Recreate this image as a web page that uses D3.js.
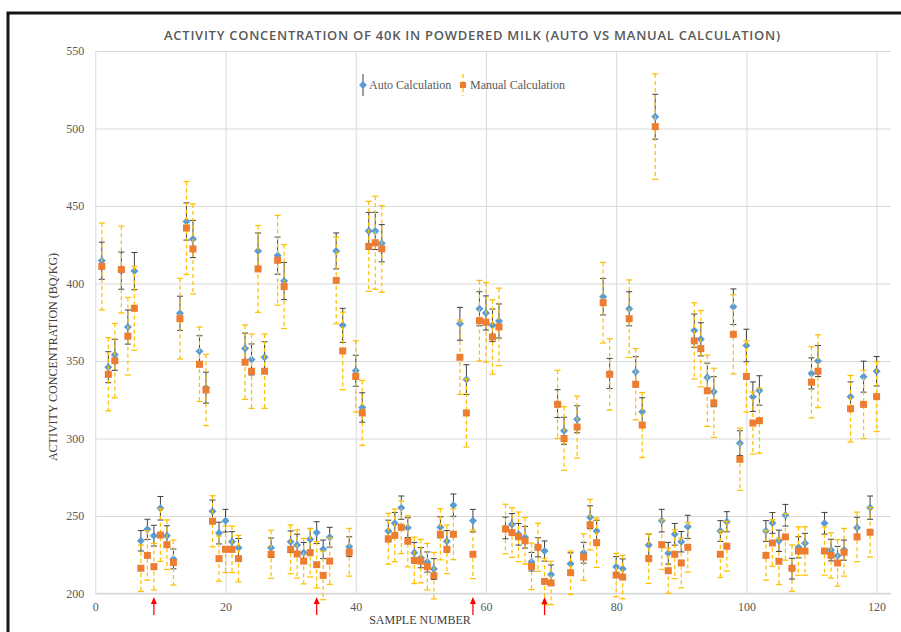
<!DOCTYPE html>
<html>
<head>
<meta charset="utf-8">
<script src="https://cdn.jsdelivr.net/npm/d3@7"></script>
<style>
body {margin:0; background:#fff;}
text {font-family:"Liberation Serif","DejaVu Serif",serif;}
</style>
</head>
<body>
<div class="charts"></div>
<script>
/////////////
//Data
/////////////

var samples = d3.range(1, 121)

var autoVals = [414.7,346,354,408.3,371.9,408,
  234,241.4,237.3,255,237.3,222.3,
  380.8,440,428.7,356.3,332.8,
  253,239,247,233.4,229.5,
  358,351,421,352.4,
  229.5,
  418,401.6,
  233.4,231.3,226.3,235,239.3,228.5,236.3,
  421,373,
  230.2,
  343.7,320,433.9,433.9,426,
  240.3,245.3,255.4,242.5,226.3,223.1,220.3,215.8,242.7,233.7,257,
  374,338,
  247,
  383.7,381,373,375.8,
  242.3,244.6,238.2,236.3,220.5,229.8,227.4,212.2,
  322.5,305,
  219.2,
  312.4,
  226.3,249.2,240.3,
  391.5,342,
  217.3,216,
  383.7,343,317.3,
  231.3,
  507.6,
  247,226,238.2,233.4,243,
  369.6,364,339.3,330.2,
  240.3,246.3,
  385,297,360,327,331,
  240.3,245.5,234,250.5,216,229.8,232.4,
  342,350,
  245.3,228,224.4,228,
  327,
  242.5,
  339.9,
  255.4,
  343.4]

var manualVals = [411,341.4,350.2,409,366,384,
  216.3,224.6,217.3,237.7,231.5,220,
  377.3,435.8,422.3,347.9,331.3,
  246.6,222.5,228.5,228.5,222.5,
  349.2,343.4,409.4,343.4,
  225.3,
  415,398,
  228.5,225.5,220.9,226.3,218.6,211.7,220.9,
  402,356.5,
  226.6,
  340,316.5,424,426.3,422.3,
  235.3,237.5,242.7,233.7,221.4,220.9,217.3,211.5,238.2,228.5,238.2,
  352.4,316.5,
  225.3,
  376,375,365.5,372,
  241.6,239.3,236.6,234,217.5,229.8,207.8,206.8,
  322,300,
  213.4,
  307.4,
  223.5,244.4,232.8,
  387.6,341.4,
  211.9,210.6,
  377.3,335,308.7,
  222.5,
  501.2,
  231.5,214.7,225.3,219.7,229.8,
  363,358,330.8,323,
  225.3,230.5,
  367.2,286.6,340,310,311.5,
  224.6,232.6,220.8,236.5,216.3,227.4,227.4,
  336.3,343.4,
  227.4,224.6,219.7,226.6,
  319.2,
  236.5,
  322,
  239.5,
  327]

var autoErr = [12,10,10,12,11,12,
  6.6,6.5,6.7,7.6,6.4,6.4,
  11,12,12,10,10,
  7.3,7,7.3,6.5,6,
  10,10,11.6,10,
  6.3,
  12,12,
  7,7,6.6,7,7,6,6.4,
  11.6,11,
  6.4,
  10,9.5,12,12,12,
  7,7,7.5,6.4,6.7,6.5,6.5,6.7,6.8,7,7.2,
  10.6,9.6,
  7.3,
  11,11,10.5,11,
  7,7,7,7,6,6.2,6.5,6.2,
  9,8.7,
  7,
  8.7,
  6.7,7.4,7,
  11.8,9.7,
  6.5,6.3,
  11,9.8,9,
  7,
  14.5,
  7.3,7,7,6.6,7.5,
  10.7,10.7,9.3,9.7,
  6.7,6.5,
  11.5,8,10.5,9.5,9.5,
  6.7,6.7,6.9,7,6.7,6.8,6.4,
  10,10,
  7,7,6,6.5,
  9.5,
  6.7,
  10,
  7.5,
  9.5]

var manualErr = [28,23.6,24,28,25,27,
  15,16,15,17,16,14.5,
  26,30,29,24,23,
  16.5,14.6,15,15,15,
  24,24,28,24,
  15.5,
  29,27,
  15.7,15.5,14.7,15.6,15,15.7,15,
  28,25,
  15.4,
  23,21,29,30,28,
  16.4,17,17,16.5,15,14,15,15,16.5,15.7,16.4,
  24,22,
  15.7,
  26,25.7,24,25,
  16,16,16,15,15,15.5,15,14,
  22,20.5,
  14,
  20,
  15,16.3,16,
  26,23,
  14,14,
  25,23,21,
  16,
  34,
  16,14.5,15.7,16,16,
  24.6,24.6,23,22.3,
  15,16,
  25.6,20,23,20,21,
  16,15,15,15,15,15.6,15.6,
  23,23.5,
  15.6,14.6,15,15.4,
  21.5,
  16,
  22,
  16,
  22.5]

var arrowSamples = [9, 34, 58, 69]
var xTicks = [0, 20, 40, 60, 80, 100, 120]
var yTicks = [200, 250, 300, 350, 400, 450, 500, 550]

var autoData = samples.map(function(s, i) {return {s: s, v: autoVals[i], e: autoErr[i]}})
var manualData = samples.map(function(s, i) {return {s: s, v: manualVals[i], e: manualErr[i]}})

///////////////////
//Chart setup
///////////////////

w = 901
h = 632
plotLeft = 95.3
plotRight = 891
plotTop = 51
plotBottom = 593.5

var svg = d3.select('div.charts')
  .append('svg')
  .attr('width', w)
  .attr('height', h)

// frame of the original screenshot
svg.append('rect')
  .attr('x', 8).attr('y', 13)
  .attr('width', 1000).attr('height', 700)
  .attr('fill', 'none')
  .attr('stroke', '#151515')
  .attr('stroke-width', 3)

var x = d3.scaleLinear().domain([0, 120]).range([plotLeft, 876.6])
var y = d3.scaleLinear().domain([200, 550]).range([plotBottom, plotTop])

//y axis + horizontal gridlines
var yAxis = svg.append('g')
  .attr('transform', 'translate(' + plotLeft + ',0)')
  .call(d3.axisLeft(y).tickValues(yTicks).tickSize(-(plotRight - plotLeft)).tickPadding(11))
yAxis.select('.domain').remove()
yAxis.selectAll('line').attr('stroke', '#d9d9d9')
yAxis.selectAll('text')
  .attr('fill', '#595959')
  .style('font-family', '"Liberation Serif", serif')
  .style('font-size', '12px')

//x axis + vertical gridlines
var xAxis = svg.append('g')
  .attr('transform', 'translate(0,' + plotBottom + ')')
  .call(d3.axisBottom(x).tickValues(xTicks).tickSize(-(plotBottom - plotTop)).tickPadding(9))
xAxis.select('.domain').remove()
xAxis.selectAll('line').attr('stroke', '#d9d9d9')
xAxis.selectAll('text')
  .attr('fill', '#595959')
  .style('font-family', '"Liberation Serif", serif')
  .style('font-size', '12px')

svg.append('line')
  .attr('x1', plotLeft).attr('x2', plotRight)
  .attr('y1', plotBottom).attr('y2', plotBottom)
  .attr('stroke', '#d9d9d9').attr('stroke-width', 1.5)

////////////////////
//Titles
////////////////////

svg.append('text')
  .attr('x', 472).attr('y', 40)
  .attr('text-anchor', 'middle')
  .attr('textLength', 616)
  .attr('fill', '#595959')
  .style('font-family', '"Open Sans", sans-serif')
  .style('font-size', '13px')
  .style('font-weight', 600)
  .text('ACTIVITY CONCENTRATION OF 40K IN POWDERED MILK (AUTO VS MANUAL CALCULATION)')

svg.append('text')
  .attr('transform', 'translate(57,357) rotate(-90)')
  .attr('text-anchor', 'middle')
  .attr('fill', '#404040')
  .style('font-size', '12px')
  .text('ACTIVITY CONCENTRATION (BQ/KG)')

svg.append('text')
  .attr('x', 420).attr('y', 624)
  .attr('text-anchor', 'middle')
  .attr('fill', '#404040')
  .style('font-size', '12px')
  .text('SAMPLE NUMBER')

////////////////////
//Error bars + markers
////////////////////

function errBars(data, cls, color, width, dash) {
  var g = svg.append('g').attr('class', cls)
    .attr('stroke', color).attr('stroke-width', width)
  var bars = g.selectAll('g').data(data).enter().append('g')
  bars.append('line')
    .attr('x1', d => x(d.s)).attr('x2', d => x(d.s))
    .attr('y1', d => y(d.v + d.e)).attr('y2', d => y(d.v - d.e))
    .attr('stroke-dasharray', dash)
  bars.append('line')
    .attr('x1', d => x(d.s) - 3).attr('x2', d => x(d.s) + 3)
    .attr('y1', d => y(d.v + d.e)).attr('y2', d => y(d.v + d.e))
  bars.append('line')
    .attr('x1', d => x(d.s) - 3).attr('x2', d => x(d.s) + 3)
    .attr('y1', d => y(d.v - d.e)).attr('y2', d => y(d.v - d.e))
}

var diamond = 'M0,-4L4,0L0,4L-4,0Z'

errBars(autoData, 'autoerr', '#404040', 1, null)

svg.append('g').selectAll('path')
  .data(autoData).enter()
  .append('path')
  .attr('d', diamond)
  .attr('transform', d => 'translate(' + x(d.s) + ',' + y(d.v) + ')')
  .attr('fill', '#5B9BD5')

errBars(manualData, 'manerr', '#FFC000', 1.25, '4,3')

svg.append('g').selectAll('rect')
  .data(manualData).enter()
  .append('rect')
  .attr('x', d => x(d.s) - 3.5).attr('y', d => y(d.v) - 3.5)
  .attr('width', 7).attr('height', 7)
  .attr('fill', '#ED7D31')

////////////////////
//Legend
////////////////////

var leg = svg.append('g')
leg.append('line').attr('x1', 363).attr('x2', 363).attr('y1', 74).attr('y2', 96).attr('stroke', '#404040')
leg.append('path').attr('d', diamond).attr('transform', 'translate(363,85)').attr('fill', '#5B9BD5')
leg.append('text').attr('x', 369).attr('y', 89).attr('fill', '#595959').style('font-size', '12px').text('Auto Calculation')
leg.append('line').attr('x1', 463).attr('x2', 463).attr('y1', 74).attr('y2', 96)
  .attr('stroke', '#FFC000').attr('stroke-width', 1.25).attr('stroke-dasharray', '4,3')
leg.append('rect').attr('x', 460).attr('y', 82).attr('width', 6).attr('height', 6).attr('fill', '#ED7D31')
leg.append('text').attr('x', 470).attr('y', 89).attr('fill', '#595959').style('font-size', '12px').text('Manual Calculation')

////////////////////
//Red arrows under the axis
////////////////////

var arrows = svg.append('g').selectAll('g')
  .data(arrowSamples).enter().append('g')
arrows.append('line')
  .attr('x1', d => x(d)).attr('x2', d => x(d))
  .attr('y1', 615).attr('y2', 601)
  .attr('stroke', '#ff0000').attr('stroke-width', 1.25)
arrows.append('path')
  .attr('d', d => 'M' + (x(d) - 3) + ',604L' + x(d) + ',597L' + (x(d) + 3) + ',604Z')
  .attr('fill', '#ff0000')
</script>
</body>
</html>
